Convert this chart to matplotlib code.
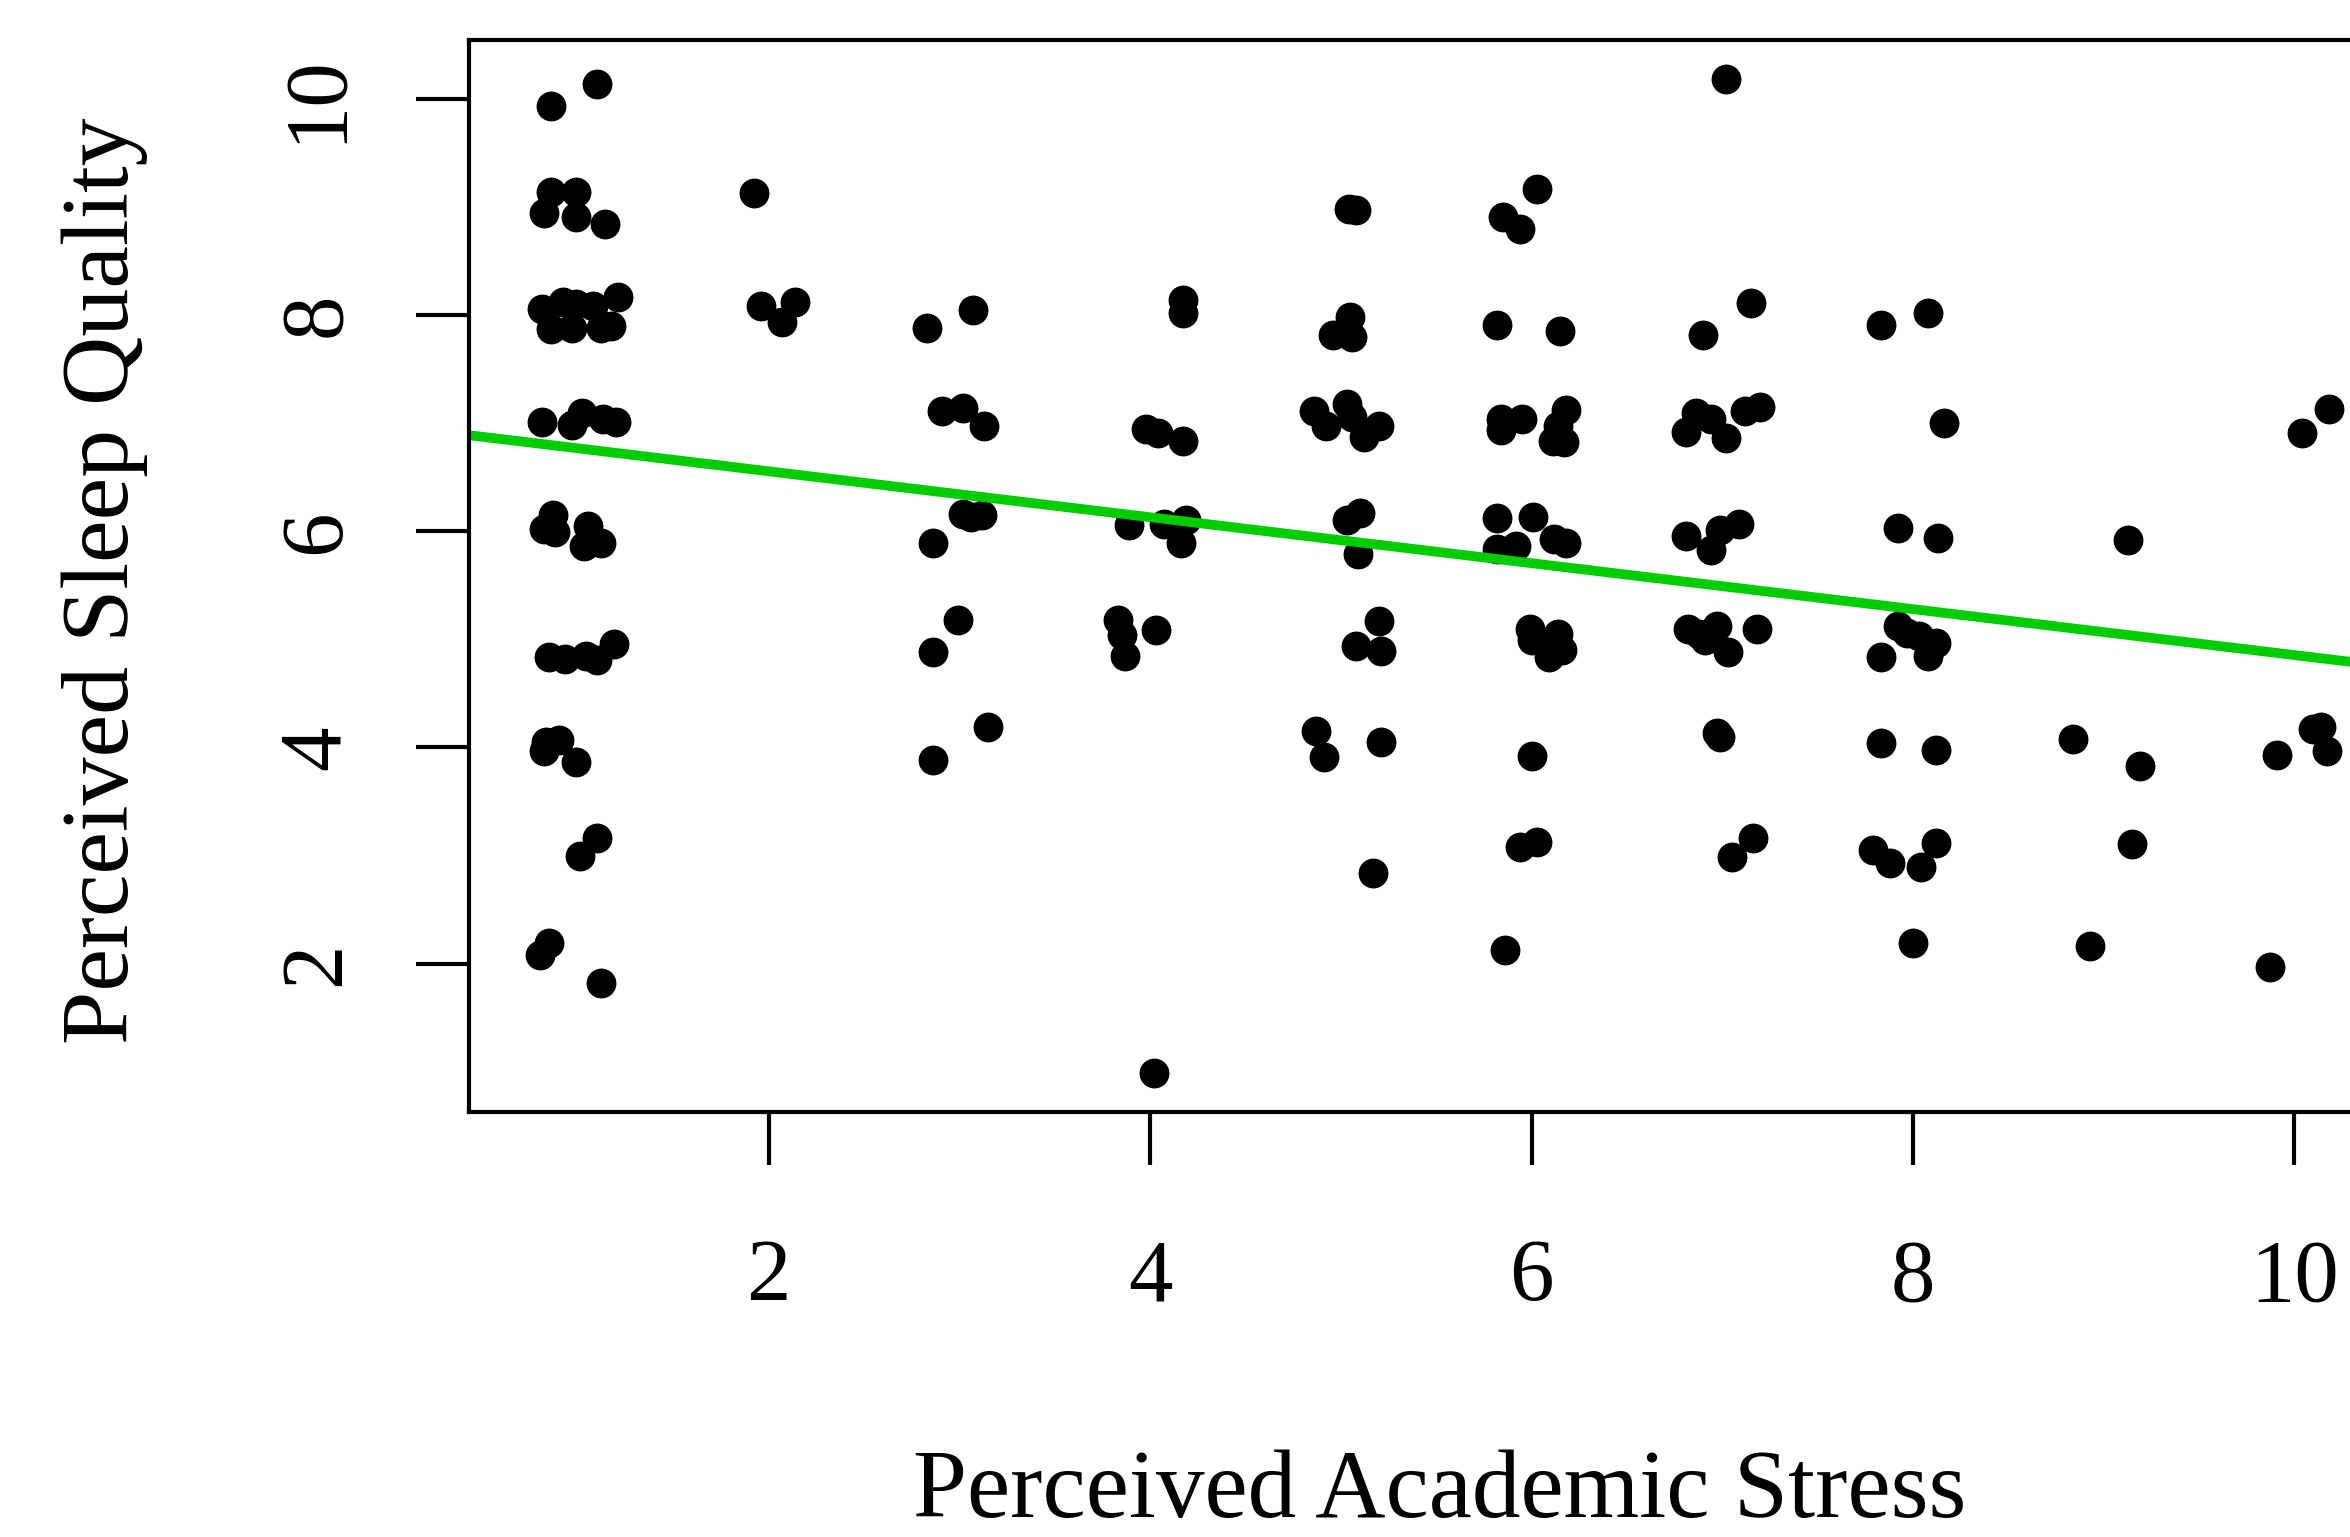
import matplotlib
matplotlib.use("Agg")
import matplotlib.pyplot as plt
import numpy as np

plt.rcParams['font.family'] = ['Liberation Serif', 'DejaVu Serif']

# jittered responses (stress, sleep quality)
stress = [
    0.86, 1.10,
    0.86, 0.99, 0.82, 0.99, 1.14,
    0.81, 0.92, 0.99, 0.86, 0.97, 1.12, 1.08, 1.21, 1.17,
    0.81, 0.97, 1.02, 1.13, 1.20,
    0.87, 0.82, 0.88, 1.05, 1.12, 1.03,
    0.85, 0.93, 1.04, 1.10, 1.19,
    0.83, 0.90, 0.82, 0.99,
    1.10, 1.01,
    0.85, 0.80, 1.12,
    1.92, 1.96, 2.14, 2.07,
    2.83, 3.07, 2.91, 3.02, 3.13, 3.02, 3.06, 3.12, 2.86, 2.99, 2.86, 3.15, 2.86,
    4.17, 4.17, 3.98, 4.04, 4.17, 3.89, 4.07, 4.19, 4.16, 3.83, 3.85, 3.87, 4.03, 4.02,
    5.04, 5.08, 5.05, 4.96, 5.06, 4.86, 5.03, 4.92, 5.12, 5.20, 5.06, 5.03, 5.10,
    5.09, 5.20, 5.08, 5.21, 4.87, 4.91, 5.21, 5.17,
    6.03, 5.85, 5.94, 5.82, 6.15, 5.84, 5.95, 5.84, 6.18, 6.14, 6.11, 6.17, 5.82,
    6.01, 6.12, 6.18, 5.82, 5.92, 5.99, 6.00, 6.14, 6.09, 6.16, 6.00, 5.94, 6.03, 5.86,
    7.02, 7.15, 6.90, 6.86, 6.94, 6.81, 7.02, 7.12, 7.20, 6.81, 6.99, 7.09, 6.94,
    6.82, 6.88, 6.91, 6.97, 7.03, 7.18, 6.97, 6.99, 7.16, 7.05,
    7.83, 8.08, 8.16, 7.92, 8.13, 7.92, 7.97, 8.03, 8.12, 8.08, 7.83, 7.83, 8.12,
    7.79, 7.88, 8.04, 8.12, 8.00,
    9.13, 8.84, 9.19, 9.15, 8.93,
    10.18, 10.04, 9.91, 10.10, 10.14, 10.17, 9.87,
]
sleep = [
    9.93, 10.14,
    9.14, 9.14, 8.94, 8.91, 8.84,
    8.06, 8.12, 8.10, 7.87, 7.88, 7.88, 8.08, 8.17, 7.90,
    7.01, 6.98, 7.09, 7.04, 7.01,
    6.15, 6.02, 5.99, 6.05, 5.89, 5.86,
    4.84, 4.82, 4.85, 4.81, 4.96,
    4.05, 4.07, 3.97, 3.87,
    3.16, 3.00,
    2.19, 2.08, 1.82,
    9.13, 8.08, 8.12, 7.94,
    7.88, 8.05, 7.11, 7.14, 6.97, 6.16, 6.13, 6.15, 5.89, 5.18, 4.88, 4.19, 3.88,
    8.14, 8.02, 6.95, 6.91, 6.84, 6.06, 6.07, 6.10, 5.89, 5.18, 5.04, 4.85, 5.09, 0.99,
    8.98, 8.97, 7.98, 7.82, 7.80, 7.11, 7.18, 6.97, 6.87, 6.97, 7.06, 6.10, 6.17,
    5.79, 5.17, 4.94, 4.89, 4.15, 3.91, 4.05, 2.84,
    9.17, 8.91, 8.80, 7.91, 7.85, 7.04, 7.04, 6.94, 7.12, 6.97, 6.84, 6.83, 6.12,
    6.13, 5.93, 5.89, 5.84, 5.86, 5.10, 4.99, 5.05, 4.84, 4.90, 3.92, 3.08, 3.13, 2.13,
    10.18, 8.11, 7.82, 7.09, 7.04, 6.92, 6.86, 7.11, 7.15, 5.96, 6.01, 6.07, 5.83,
    5.10, 5.05, 4.99, 5.12, 4.88, 5.10, 4.13, 4.10, 3.16, 2.99,
    7.91, 8.02, 7.00, 6.03, 5.94, 5.12, 5.06, 5.03, 4.97, 4.85, 4.84, 4.04, 3.98,
    3.05, 2.93, 2.89, 3.12, 2.19,
    5.92, 4.08, 3.83, 3.11, 2.16,
    7.13, 6.91, 3.93, 4.17, 4.19, 3.97, 1.97,
]

# fitted regression line
intercept = 6.98
slope = -0.2125

x_ticks = [2, 4, 6, 8, 10]
y_ticks = [2, 4, 6, 8, 10]

W, H = 2350, 1537
fig = plt.figure(figsize=(W / 100, H / 100), dpi=100)
# axes extends past the right edge of the figure (reference is cropped)
ax = fig.add_axes([469 / W, 1 - 1112 / H, (2405 - 469) / W, (1112 - 40) / H])

ax.plot(stress, sleep, 'o', color='black', ms=21.5, mew=0)
ax.axline((0, intercept), slope=slope, color='#00CD00', lw=7)

ax.set_xlim(0.428, 10.58)
ax.set_ylim(0.628, 10.545)

ax.set_xticks(x_ticks)
ax.set_yticks(y_ticks)
ax.tick_params(axis='both', direction='out', length=38, width=3, labelsize=64)
ax.tick_params(axis='x', pad=53)
ax.tick_params(axis='y', pad=42)
for lab in ax.get_yticklabels():
    lab.set_rotation(90)
    lab.set_va('center')

for sp in ax.spines.values():
    sp.set_linewidth(3)

fig.text(1440 / W, 1 - 1494 / H, 'Perceived Academic Stress', ha='center', va='center', fontsize=70)
fig.text(105 / W, 1 - 581 / H, 'Perceived Sleep Quality', ha='center', va='center',
         rotation=90, fontsize=69)

fig.savefig('out.png', dpi=100)
